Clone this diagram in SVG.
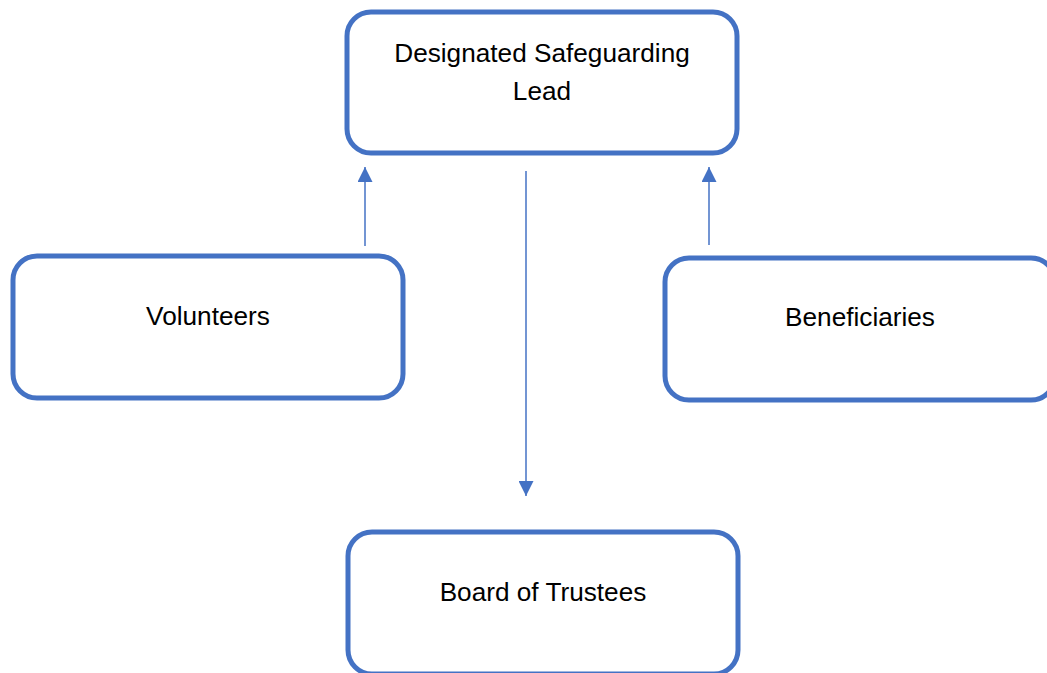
<svg xmlns="http://www.w3.org/2000/svg" width="1047" height="673" viewBox="0 0 1047 673">
<style>
.box{fill:#fff;stroke:#4472C4;stroke-width:5}
.lbl{font-family:"Liberation Sans",Arial,sans-serif;font-size:26.2px;fill:#000;text-anchor:middle}
.conn{stroke:#4472C4;stroke-width:1.5;fill:none}
</style>
<defs>
<marker id="ah" viewBox="0 0 10 10" refX="10" refY="5" markerUnits="userSpaceOnUse" markerWidth="15" markerHeight="15" orient="auto">
<path d="M0,0 L10,5 L0,10 Z" fill="#4472C4"/>
</marker>
</defs>
<rect width="1047" height="673" fill="#fff"/>
<g id="dsl">
<rect class="box" x="347" y="12" width="390" height="141" rx="24"/>
<text class="lbl" x="542" y="62">Designated Safeguarding</text>
<text class="lbl" x="542" y="100">Lead</text>
</g>
<g id="volunteers">
<rect class="box" x="13" y="256" width="390" height="142" rx="24"/>
<text class="lbl" x="208" y="325">Volunteers</text>
</g>
<g id="beneficiaries">
<rect class="box" x="665" y="258" width="390" height="142" rx="24"/>
<text class="lbl" x="860" y="326">Beneficiaries</text>
</g>
<g id="board">
<rect class="box" x="348" y="532" width="390" height="142" rx="24"/>
<text class="lbl" x="543" y="601">Board of Trustees</text>
</g>
<g id="connectors">
<line class="conn" x1="365" y1="246" x2="365" y2="167" marker-end="url(#ah)"/>
<line class="conn" x1="526" y1="171" x2="526" y2="496" marker-end="url(#ah)"/>
<line class="conn" x1="709" y1="245" x2="709" y2="167" marker-end="url(#ah)"/>
</g>
</svg>
